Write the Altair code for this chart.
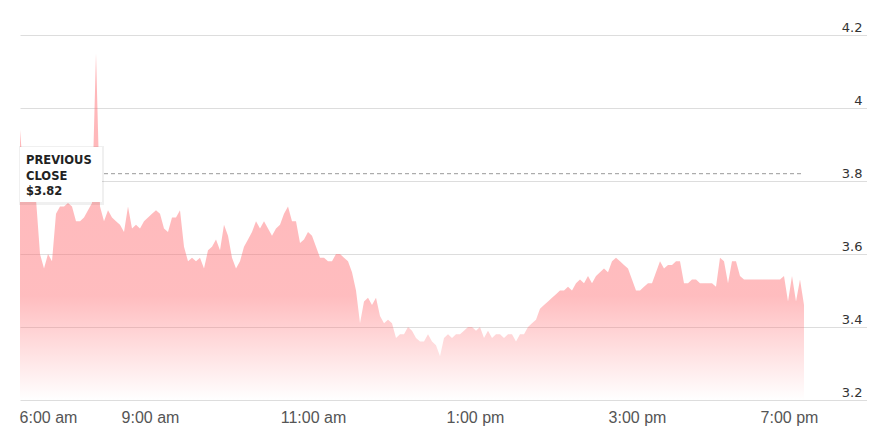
import altair as alt
import pandas as pd

# Price samples (USD), evenly spaced along the session axis
premarket = [3.94, 3.80, 3.79, 3.78, 3.75, 3.60, 3.56, 3.60, 3.58, 3.71,
             3.73, 3.73, 3.74, 3.73, 3.69, 3.69, 3.70, 3.72, 3.74, 4.15,
             3.73, 3.69, 3.72, 3.70, 3.69, 3.68, 3.66, 3.73, 3.67, 3.68,
             3.67, 3.69, 3.70, 3.71]
morning = [3.72, 3.71, 3.67, 3.66, 3.70, 3.70, 3.72, 3.62, 3.58, 3.59,
           3.58, 3.59, 3.56, 3.61, 3.62, 3.64, 3.61, 3.68, 3.65, 3.59,
           3.56, 3.58, 3.62, 3.64, 3.66, 3.69, 3.67, 3.69, 3.67, 3.65,
           3.67, 3.68, 3.71, 3.73, 3.69, 3.69, 3.63, 3.64, 3.66, 3.65,
           3.62, 3.59, 3.59, 3.58, 3.58, 3.60, 3.60, 3.59, 3.58, 3.55]
midday = [3.50, 3.41, 3.47, 3.48, 3.46, 3.48, 3.43, 3.41, 3.42, 3.41,
          3.37, 3.38, 3.38, 3.40, 3.39, 3.37, 3.36, 3.36, 3.38, 3.36,
          3.35, 3.32, 3.37, 3.38, 3.37, 3.38, 3.38, 3.39, 3.40, 3.40,
          3.39, 3.40, 3.37, 3.39, 3.37, 3.38, 3.38, 3.37, 3.38, 3.38,
          3.36, 3.38, 3.38, 3.40, 3.41, 3.42, 3.45, 3.46, 3.47, 3.48]
afternoon = [3.49, 3.50, 3.50, 3.51, 3.50, 3.52, 3.53, 3.52, 3.54, 3.52,
             3.54, 3.55, 3.56, 3.55, 3.58, 3.59, 3.58, 3.57, 3.56, 3.53,
             3.50, 3.50, 3.51, 3.52, 3.52, 3.55, 3.58, 3.56, 3.57, 3.57,
             3.58, 3.58, 3.52, 3.52, 3.53, 3.53, 3.52, 3.52, 3.52, 3.52]
evening = [3.51, 3.59, 3.58, 3.52, 3.58, 3.58, 3.54, 3.53, 3.53, 3.53,
           3.53, 3.53, 3.53, 3.53, 3.53, 3.53, 3.53, 3.54, 3.47, 3.54,
           3.47, 3.53, 3.46]

prices = premarket + morning + midday + afternoon + evening
prev_close = 3.82

# Axis ticks (positions along the session index) and their labels
tick_pos = [7, 32.5, 73.25, 113.75, 154.25, 192.25]
tick_labels = ["6:00 am", "9:00 am", "11:00 am", "1:00 pm", "3:00 pm", "7:00 pm"]
x_max = 211.75
y_ticks = [3.2, 3.4, 3.6, 3.8, 4.0, 4.2]

df = pd.DataFrame({"i": list(range(len(prices))), "price": prices})
last_i = len(prices) - 1
one = pd.DataFrame({"prev": [prev_close]})

label_expr = ""
for p, l in zip(tick_pos, tick_labels):
    label_expr += f"datum.value == {p} ? '{l}' : "
label_expr += "''"

x_scale = alt.Scale(domain=[0, x_max], nice=False, zero=False)
x_enc = alt.X("i:Q", scale=x_scale,
              axis=alt.Axis(values=tick_pos, labelExpr=label_expr, title=None,
                            domain=False, ticks=False, grid=False,
                            labelFont="Liberation Sans Narrow, Liberation Sans, sans-serif",
                            labelFontSize=16, labelColor="#555555",
                            labelPadding=9, labelOverlap=False, labelFlush=False))
y_scale = alt.Scale(domain=[3.2, 4.2], nice=False, zero=False)

grad = alt.Gradient(
    gradient="linear",
    stops=[alt.GradientStop(color="rgba(255,110,115,0.5)", offset=0),
           alt.GradientStop(color="rgba(255,110,115,0.46)", offset=0.7),
           alt.GradientStop(color="rgba(255,110,115,0.0)", offset=1)],
    x1=1, x2=1, y1=0, y2=1)

area = alt.Chart(df).mark_area(color=grad, interpolate="linear", clip=True).encode(
    x=x_enc,
    y=alt.Y("price:Q", scale=y_scale,
            axis=alt.Axis(orient="right", values=y_ticks, format="~g", title=None,
                          domain=False, ticks=False, grid=True, gridColor="#dddddd",
                          gridWidth=1, labelAlign="right", labelBaseline="bottom",
                          labelPadding=-5, labelOffset=-1,
                          labelFont="DejaVu Sans", labelFontSize=13,
                          labelColor="#333333")),
    y2=alt.datum(3.2),
)

rule = alt.Chart(one).mark_rule(color="#999999", strokeDash=[4, 3], strokeWidth=1).encode(
    y=alt.datum(prev_close), x=alt.datum(0), x2=alt.datum(last_i))

shadow = alt.Chart(one).mark_rect(color="#000000", opacity=0.06).encode(
    x=alt.value(-1), x2=alt.value(84), y=alt.value(111), y2=alt.value(170))
box = alt.Chart(one).mark_rect(color="#ffffff").encode(
    x=alt.value(0), x2=alt.value(82), y=alt.value(112), y2=alt.value(167))

box_text = f"PREVIOUS\nCLOSE\n${prev_close:.2f}"
txt = alt.Chart(one).mark_text(align="left", baseline="alphabetic", font="DejaVu Sans",
                               fontSize=11.5, color="#222222", fontWeight="bold",
                               lineBreak="\n", lineHeight=15.5).encode(
    x=alt.value(6), y=alt.value(129), text=alt.value(box_text))

chart = alt.layer(area, rule, shadow, box, txt).properties(
    width=847, height=365,
    autosize=alt.AutoSizeParams(type="none"),
    padding={"left": 12, "top": 27, "right": 0, "bottom": 40},
).configure_view(stroke=None)

chart.save("out.html", embed_options={"renderer": "svg", "actions": False})
